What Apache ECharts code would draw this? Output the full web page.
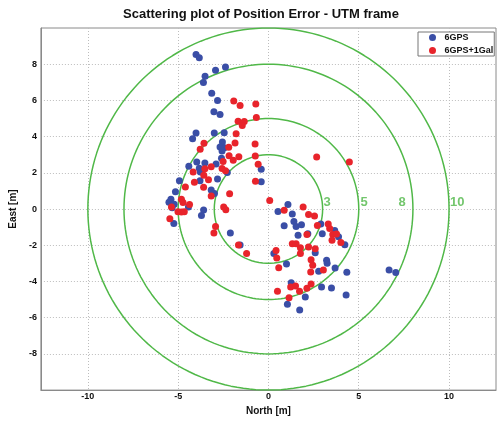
<!DOCTYPE html>
<html>
<head>
<meta charset="utf-8">
<script src="https://cdn.jsdelivr.net/npm/echarts@6/dist/echarts.min.js"></script>
<style>
  html, body { margin: 0; padding: 0; background: #fff; }
  #chart { width: 497px; height: 421px; }
</style>
</head>
<body>
<div id="chart"></div>
<script>
// values, [North, East] in metres
const gpsPoints = [
  [-4.01, 8.53], [-3.83, 8.35], [-2.93, 7.67], [-2.38, 7.84], [-3.51, 7.33],
  [-3.60, 6.99], [-3.14, 6.40], [-2.82, 5.99], [-3.02, 5.38], [-2.68, 5.22],
  [-4.01, 4.20], [-4.20, 3.88], [-3.00, 4.20], [-2.45, 4.22], [-2.55, 3.70],
  [-2.68, 3.43], [-2.44, 3.38], [-2.57, 3.21], [-2.60, 2.81], [-2.90, 2.49],
  [-3.97, 2.60], [-3.52, 2.54], [-4.41, 2.36], [-3.83, 2.25], [-3.77, 2.05],
  [-3.79, 1.56], [-2.82, 1.66], [-4.93, 1.57], [-5.15, 0.95], [-3.17, 1.05],
  [-2.99, 0.86], [-2.28, 2.02], [-5.40, 0.54], [-5.51, 0.38], [-5.22, 0.26],
  [-5.33, 0.07], [-4.43, 0.12], [-3.59, -0.05], [-3.71, -0.36], [-5.24, -0.80],
  [-2.11, -1.32], [-1.57, -1.99], [-0.40, 2.20], [-0.40, 1.51], [0.53, -0.13],
  [1.08, 0.25], [1.32, -0.27], [0.87, -0.92], [1.41, -0.69], [1.53, -0.96],
  [1.83, -0.87], [1.64, -1.45], [2.18, -1.36], [2.90, -0.83], [2.98, -1.37],
  [3.67, -1.19], [3.88, -1.53], [4.23, -1.97], [0.30, -2.45], [1.00, -3.04],
  [2.59, -2.41], [3.22, -2.83], [3.25, -2.99], [2.78, -3.44], [3.69, -3.26],
  [4.34, -3.49], [6.68, -3.36], [7.05, -3.51], [1.26, -4.07], [2.94, -4.30],
  [3.49, -4.36], [4.30, -4.75], [2.04, -4.86], [1.05, -5.26], [1.73, -5.57]
];
const galPoints = [
  [-1.92, 5.97], [-1.57, 5.72], [-0.70, 5.80], [-0.67, 5.05], [-1.68, 4.85],
  [-1.34, 4.84], [-1.45, 4.61], [-1.79, 4.16], [-3.57, 3.64], [-3.78, 3.30],
  [-2.20, 3.42], [-1.85, 3.65], [-2.18, 2.94], [-1.95, 2.69], [-1.64, 2.89],
  [-2.51, 2.62], [-3.17, 2.33], [-3.52, 2.23], [-4.17, 2.04], [-2.57, 2.24],
  [-2.38, 2.11], [-3.32, 1.62], [-3.58, 1.86], [-4.10, 1.48], [-3.59, 1.21],
  [-4.60, 1.22], [-0.72, 1.54], [-0.57, 2.48], [-0.74, 3.59], [-0.73, 2.93],
  [-3.17, 0.72], [-2.15, 0.84], [-4.82, 0.54], [-4.73, 0.36], [-4.37, 0.25],
  [-5.37, 0.12], [-5.01, -0.15], [-4.82, -0.16], [-4.66, -0.15], [-5.46, -0.54],
  [-2.48, 0.12], [-2.36, -0.04], [-2.93, -0.96], [-3.02, -1.32], [-1.66, -1.99],
  [-1.21, -2.46], [0.07, 0.47], [0.87, -0.07], [1.92, 0.11], [2.67, 2.87],
  [4.48, 2.60], [2.22, -0.30], [2.55, -0.39], [2.71, -0.91], [3.31, -0.83],
  [3.39, -1.07], [3.56, -1.41], [3.77, -1.38], [3.52, -1.73], [4.01, -1.85],
  [1.32, -1.92], [1.53, -1.92], [1.77, -2.14], [2.22, -2.10], [2.59, -2.19],
  [0.42, -2.29], [0.46, -2.71], [1.77, -2.46], [2.36, -2.80], [2.45, -3.10],
  [0.57, -3.24], [2.34, -3.48], [3.04, -3.36], [2.13, -1.41], [0.50, -4.54],
  [1.14, -4.90], [1.23, -4.30], [1.50, -4.25], [1.72, -4.54], [2.13, -4.37],
  [2.36, -4.14]
];
const ringRadii = [3, 5, 8, 10];
const ringLabelX = [3.25, 5.3, 7.4, 10.45];
const ringLabelY = 0.38;
const xTicks = [-10, -5, 0, 5, 10];
const yTicks = [-8, -6, -4, -2, 0, 2, 4, 6, 8];

const green = '#50b848';
const font = '"Liberation Sans", Arial, sans-serif';

function ringPoints(r) {
  const pts = [];
  for (let a = 0; a <= 360; a += 2) {
    const t = a * Math.PI / 180;
    pts.push([r * Math.cos(t), r * Math.sin(t)]);
  }
  return pts;
}

const ringSeries = ringRadii.map(r => ({
  type: 'line',
  data: ringPoints(r),
  showSymbol: false,
  silent: true,
  z: 1,
  lineStyle: { color: green, width: 1.5 }
}));

const chart = echarts.init(document.getElementById('chart'));
chart.setOption({
  animation: false,
  grid: { left: 31, right: 1, top: 28, bottom: 24, show: true, borderColor: '#8a8a8a', borderWidth: 1 },
  graphic: [{
    type: 'text', left: 123, top: 8,
    style: { text: 'Scattering plot of Position Error - UTM frame', font: 'bold 13px ' + font, fill: '#111' }
  }],
  legend: {
    orient: 'vertical',
    left: 418, top: 32,
    data: ['6GPS', '6GPS+1Gal'],
    icon: 'circle',
    itemWidth: 14, itemHeight: 7, itemGap: 2,
    padding: [0, 1, 0, 11],
    borderColor: '#777', borderWidth: 1, backgroundColor: '#fff',
    textStyle: { fontSize: 9, fontWeight: 'bold', color: '#111', fontFamily: font, lineHeight: 11 }
  },
  xAxis: {
    type: 'value', min: -12.6, max: 12.6,
    name: 'North [m]', nameLocation: 'middle', nameGap: 11,
    nameTextStyle: { fontSize: 10, fontWeight: 'bold', color: '#111', fontFamily: font },
    axisLine: { onZero: false, lineStyle: { color: '#8a8a8a' } },
    axisTick: { show: false, customValues: xTicks },
    axisLabel: { customValues: xTicks, margin: 2, fontSize: 9, fontWeight: 'bold', color: '#111', fontFamily: font },
    splitLine: { show: true, lineStyle: { color: '#bdbdbd', type: [1, 2], width: 1 } }
  },
  yAxis: {
    type: 'value', min: -10, max: 10,
    name: 'East [m]', nameLocation: 'middle', nameGap: 14, nameRotate: 90,
    nameTextStyle: { fontSize: 10, fontWeight: 'bold', color: '#111', fontFamily: font },
    axisLine: { show: true, onZero: false, lineStyle: { color: '#8a8a8a' } },
    axisTick: { show: false, customValues: yTicks },
    axisLabel: { customValues: yTicks, margin: 4, fontSize: 9, fontWeight: 'bold', color: '#111', fontFamily: font },
    splitLine: { show: true, lineStyle: { color: '#bdbdbd', type: [1, 2], width: 1 } }
  },
  series: ringSeries.concat([
    {
      name: 'ringLabels', type: 'scatter', symbolSize: 0, silent: true, z: 2,
      data: ringRadii.map((r, i) => ({ value: [ringLabelX[i], ringLabelY], name: String(r) })),
      label: { show: true, position: 'inside', formatter: p => p.name, color: green, fontSize: 13, fontWeight: 'bold', fontFamily: font }
    },
    {
      name: '6GPS', type: 'scatter', data: gpsPoints, symbolSize: 7, z: 3,
      itemStyle: { color: '#3a4ea6', opacity: 1 }
    },
    {
      name: '6GPS+1Gal', type: 'scatter', data: galPoints, symbolSize: 7, z: 4,
      itemStyle: { color: '#e8242b', opacity: 1 }
    }
  ])
});
</script>
</body>
</html>
